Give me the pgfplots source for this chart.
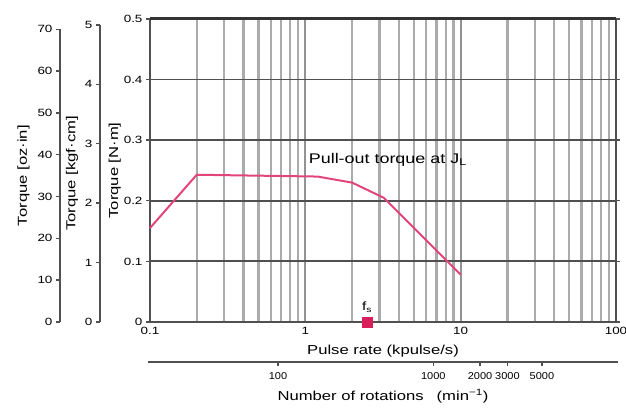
\documentclass[border=0pt]{standalone}
\usepackage{pgfplots}
\pgfplotsset{compat=1.18}
\usepackage{fontspec}
\setmainfont{Liberation Sans}[FakeStretch=1.28]
\newfontfamily\tickfont{Liberation Sans}[FakeStretch=1.1]
\definecolor{curve}{HTML}{E2457A}
\definecolor{marker}{HTML}{D81E5B}
\definecolor{dgrid}{HTML}{505050}
\definecolor{lgrid}{HTML}{ABABAB}
\begin{document}
\begin{tikzpicture}
\useasboundingbox (0pt,0pt) rectangle (626pt,409pt);
% oz-in axis
\begin{axis}[at={(60pt,87pt)}, anchor=south west, scale only axis, width=1pt, height=292.7pt,
  xmin=0, xmax=1, ymin=0, ymax=70, axis y line*=left, axis x line=none,
  ytick={0,10,...,70}, yticklabels={0,10,20,30,40,50,60,70},
  tick align=outside, major tick length=4pt,
  y axis line style={line width=2pt, color=dgrid}, ytick style={line width=1.4pt, color=dgrid},
  tick label style={font=\fontsize{10.5}{12}\selectfont},
  ylabel={Torque [oz·in]}, ylabel style={font=\fontsize{13}{15}\selectfont, yshift=1pt}]
\end{axis}
% kgf-cm axis
\begin{axis}[at={(100pt,87pt)}, anchor=south west, scale only axis, width=1pt, height=297.1pt,
  xmin=0, xmax=1, ymin=0, ymax=5, axis y line*=left, axis x line=none,
  ytick={0,1,...,5}, yticklabels={0,1,2,3,4,5},
  tick align=outside, major tick length=4pt,
  y axis line style={line width=2pt, color=dgrid}, ytick style={line width=1.4pt, color=dgrid},
  tick label style={font=\fontsize{10.5}{12}\selectfont},
  ylabel={Torque [kgf·cm]}, ylabel style={font=\fontsize{13}{15}\selectfont}]
\end{axis}
% rotations axis
\begin{axis}[at={(150pt,47pt)}, anchor=south west, scale only axis, width=466pt, height=1pt,
  xmode=log, xmin=15, xmax=15000, ymin=0, ymax=1, axis x line*=bottom, axis y line=none,
  xtick={100,1000,2000,3000,5000}, xticklabels={100,1000,2000,3000,5000}, minor xtick={},
  tick align=outside, major tick length=4pt,
  x axis line style={line width=2pt, color=dgrid, shorten <=-2pt, shorten >=-2pt},
  xtick style={line width=1.4pt, color=dgrid},
  tick label style={font=\tickfont\fontsize{10}{11}\selectfont, yshift=-3pt},
  xlabel={Number of rotations\quad (min\textsuperscript{−1})},
  xlabel style={font=\fontsize{13}{15}\selectfont, yshift=-3pt}]
\end{axis}
% main axis
\begin{axis}[at={(150pt,87pt)}, anchor=south west, scale only axis, width=466pt, height=303pt,
  xmode=log, xmin=0.1, xmax=100, ymin=0, ymax=0.5, clip=false,
  xtick={0.1,1,10,100}, xticklabels={0.1,1,10,100},
  minor xtick={0.2,0.3,0.4,0.5,0.6,0.7,0.8,0.9,2,3,4,5,6,7,8,9,20,30,40,50,60,70,80,90},
  ytick={0,0.1,0.2,0.3,0.4,0.5}, yticklabels={0,0.1,0.2,0.3,0.4,0.5},
  xmajorgrids, xminorgrids, ymajorgrids,
  major x grid style={line width=2.2pt, color=gray!85},
  minor x grid style={line width=2.2pt, color=lgrid},
  major y grid style={line width=1.8pt, color=dgrid},
  xtick style={draw=none}, minor tick length=0pt,
  ytick style={line width=1.4pt, color=dgrid}, tick align=outside, major tick length=4pt,
  axis line style={line width=2pt, color=dgrid},
  tick label style={font=\fontsize{10.5}{12}\selectfont},
  xticklabel style={yshift=2pt},
  xlabel={Pulse rate (kpulse/s)}, xlabel style={font=\fontsize{13}{15}\selectfont, yshift=-3pt},
  ylabel={Torque [N·m]}, ylabel style={font=\fontsize{13}{15}\selectfont, yshift=-4pt}]
\draw[line width=3pt, color=black!80] (rel axis cs:0,1) -- (rel axis cs:1,1);
\addplot[color=curve, line width=2pt] coordinates {(0.1,0.155) (0.2,0.243) (1.2,0.240) (2,0.230) (3.2,0.205) (10,0.078)};
\node[font=\fontsize{14}{16}\selectfont, anchor=west] at (axis cs:1.0,0.268) {Pull-out torque at J\textsubscript{L}};
\addplot[only marks, mark=square*, mark size=5pt, color=marker] coordinates {(2.5,0)};
\node[font=\fontsize{12}{14}\selectfont] at (axis cs:2.5,0.025) {f\textsubscript{s}};
\end{axis}
\end{tikzpicture}
\end{document}
